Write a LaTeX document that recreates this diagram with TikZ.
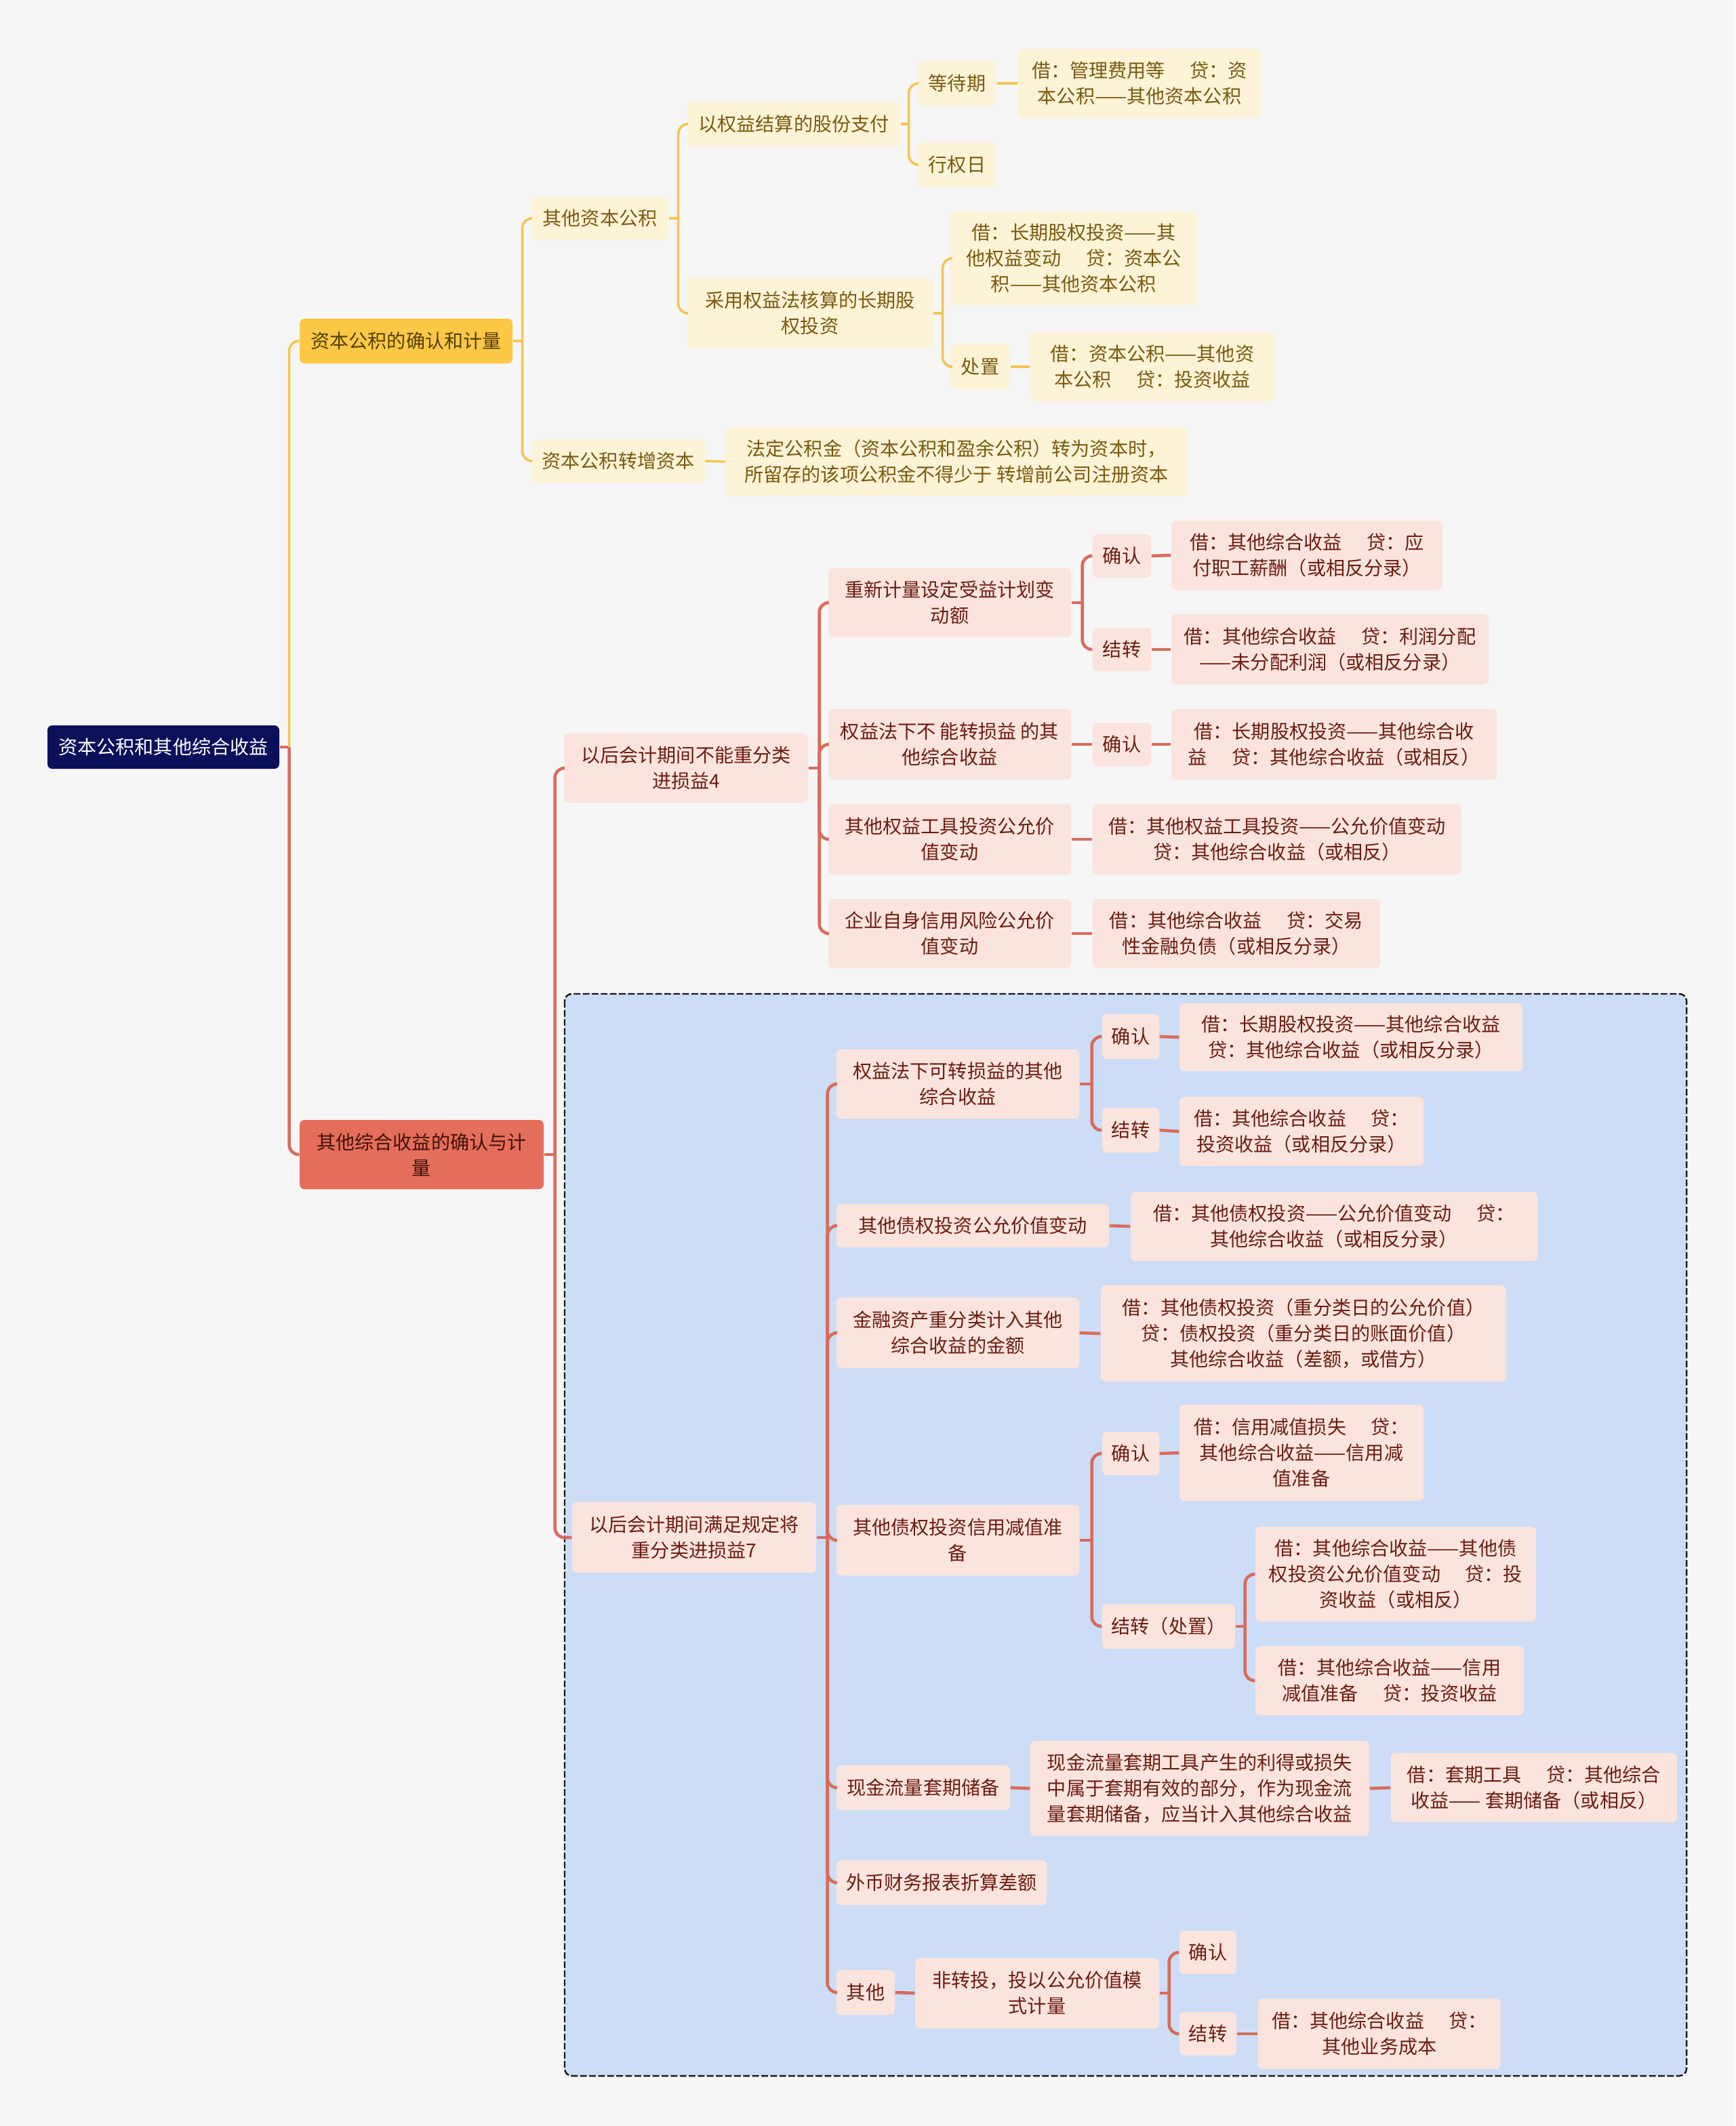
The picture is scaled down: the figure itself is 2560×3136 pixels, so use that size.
\documentclass[tikz,border=0pt]{standalone}
\usepackage{fontspec}
\setmainfont{Noto Sans CJK SC}

\definecolor{cbg}{HTML}{F6F6F6}
\definecolor{croot}{HTML}{0C0F5A}
\definecolor{cymain}{HTML}{FCC845}
\definecolor{cyfill}{HTML}{FDF3D7}
\definecolor{cytext}{HTML}{7A5A10}
\definecolor{cyline}{HTML}{F5C550}
\definecolor{crmain}{HTML}{E56E5A}
\definecolor{crfill}{HTML}{FBE4DE}
\definecolor{crtext}{HTML}{6B1D12}
\definecolor{crline}{HTML}{D76C5C}
\definecolor{cblue}{HTML}{CDDDF6}

\newcommand{\dgap}{\hspace{1.3em}}

\begin{document}
\begin{tikzpicture}[
    x=0.01cm, y=-0.01cm, % one unit = one pixel of the reference
    sz/.style 2 args={minimum width=#1*0.01cm, minimum height=#2*0.01cm}, % box size in pixels
    box/.style={rounded corners=2pt, inner sep=0pt, align=center,
      font=\fontsize{8pt}{10.8pt}\selectfont}, % base style for all boxes
    rootbox/.style={box, fill=croot, text=white}, % central topic
    ymainbox/.style={box, fill=cymain, text=cytext!70!black}, % first main branch
    rmainbox/.style={box, fill=crmain, text=crtext!60!black}, % second main branch
    ybox/.style={box, fill=cyfill, text=cytext}, % yellow sub topics
    rbox/.style={box, fill=crfill, text=crtext}, % red sub topics
    ylink/.style={draw=cyline, line width=1pt, rounded corners=4pt}, % yellow connectors
    rlink/.style={draw=crline, line width=1.3pt, rounded corners=4pt} % red connectors
]

    % Background and frame
    \fill[cbg] (0,0) rectangle (2560,3136);
    \useasboundingbox (0,0) rectangle (2560,3136);

    % Highlighted zone of the second group
    \draw[dash pattern=on 2.8pt off 1pt, draw=black!90, line width=0.7pt, fill=cblue, rounded corners=3pt]
      (833,1466) rectangle (2488,3062);

    % Central topic and main branches
    \node[rootbox, sz={342}{64}] (root) at (241,1102) {资本公积和其他综合收益};
    \node[ymainbox, sz={314}{66}] (gain) at (599,503) {资本公积的确认和计量};
    \node[rmainbox, sz={360}{102}] (oci) at (622,1703) {其他综合收益的确认与计\\量};

    % Capital reserve branch
    \node[ybox, sz={202}{64}] (other) at (885,322) {其他资本公积};
    \node[ybox, sz={256}{64}] (convert) at (912,680) {资本公积转增资本};
    \node[ybox, sz={314}{66}] (share) at (1171,183) {以权益结算的股份支付};
    \node[ybox, sz={362}{104}] (equity) at (1195,462) {采用权益法核算的长期股\\权投资};
    \node[ybox, sz={116}{66}] (wait) at (1412,123) {等待期};
    \node[ybox, sz={116}{66}] (exer) at (1412,243) {行权日};
    \node[ybox, sz={358}{102}] (waitent) at (1681,123) {借：管理费用等\dgap 贷：资\\本公积——其他资本公积};
    \node[ybox, sz={364}{138}] (eqent) at (1584,381) {借：长期股权投资——其\\他权益变动\dgap 贷：资本公\\积——其他资本公积};
    \node[ybox, sz={88}{66}] (dispose) at (1446,541) {处置};
    \node[ybox, sz={360}{102}] (dispent) at (1700,541) {借：资本公积——其他资\\本公积\dgap 贷：投资收益};
    \node[ybox, sz={682}{102}] (rule) at (1411,681) {法定公积金（资本公积和盈余公积）转为资本时，\\所留存的该项公积金不得少于 转增前公司注册资本};

    % Items that are never reclassified
    \node[rbox, sz={360}{102}] (never) at (1012,1133) {以后会计期间不能重分类\\进损益4};
    \node[rbox, sz={358}{102}] (plan) at (1401,889) {重新计量设定受益计划变\\动额};
    \node[rbox, sz={358}{104}] (eqno) at (1401,1098) {权益法下不 能转损益 的其\\他综合收益};
    \node[rbox, sz={358}{104}] (instr) at (1401,1238) {其他权益工具投资公允价\\值变动};
    \node[rbox, sz={358}{102}] (credit) at (1401,1377) {企业自身信用风险公允价\\值变动};
    \node[rbox, sz={86}{64}] (planrec) at (1655,820) {确认};
    \node[rbox, sz={86}{64}] (plantra) at (1655,958) {结转};
    \node[rbox, sz={400}{102}] (planrecent) at (1928,819) {借：其他综合收益\dgap 贷：应\\付职工薪酬（或相反分录）};
    \node[rbox, sz={468}{104}] (plantraent) at (1962,958) {借：其他综合收益\dgap 贷：利润分配\\——未分配利润（或相反分录）};
    \node[rbox, sz={86}{64}] (eqnorec) at (1655,1098) {确认};
    \node[rbox, sz={480}{104}] (eqnoent) at (1968,1098) {借：长期股权投资——其他综合收\\益\dgap 贷：其他综合收益（或相反）};
    \node[rbox, sz={544}{104}] (instrent) at (1884,1238) {借：其他权益工具投资——公允价值变动\\贷：其他综合收益（或相反）};
    \node[rbox, sz={424}{102}] (creditent) at (1824,1377) {借：其他综合收益\dgap 贷：交易\\性金融负债（或相反分录）};

    % Items that are reclassified later
    \node[rbox, sz={360}{104}] (later) at (1024,2268) {以后会计期间满足规定将\\重分类进损益7};
    \node[rbox, sz={358}{102}] (eqyes) at (1413,1599) {权益法下可转损益的其他\\综合收益};
    \node[rbox, sz={84}{66}] (eqyesrec) at (1668,1529) {确认};
    \node[rbox, sz={84}{66}] (eqyestra) at (1668,1667) {结转};
    \node[rbox, sz={506}{100}] (eqyesrecent) at (1993,1530) {借：长期股权投资——其他综合收益\\贷：其他综合收益（或相反分录）};
    \node[rbox, sz={360}{102}] (eqyestraent) at (1920,1669) {借：其他综合收益\dgap 贷：\\投资收益（或相反分录）};
    \node[rbox, sz={402}{64}] (debtfv) at (1435,1808) {其他债权投资公允价值变动};
    \node[rbox, sz={600}{102}] (debtfvent) at (1968,1809) {借：其他债权投资——公允价值变动\dgap 贷：\\其他综合收益（或相反分录）};
    \node[rbox, sz={358}{104}] (reclass) at (1413,1966) {金融资产重分类计入其他\\综合收益的金额};
    \node[rbox, sz={598}{142}] (reclassent) at (1923,1967) {借：其他债权投资（重分类日的公允价值）\\贷：债权投资（重分类日的账面价值）\\其他综合收益（差额，或借方）};
    \node[rbox, sz={358}{104}] (impair) at (1413,2272) {其他债权投资信用减值准\\备};
    \node[rbox, sz={84}{64}] (imprec) at (1668,2144) {确认};
    \node[rbox, sz={360}{142}] (imprecent) at (1920,2143) {借：信用减值损失\dgap 贷：\\其他综合收益——信用减\\值准备};
    \node[rbox, sz={196}{66}] (imptra) at (1724,2399) {结转（处置）};
    \node[rbox, sz={414}{140}] (imptraa) at (2059,2322) {借：其他综合收益——其他债\\权投资公允价值变动\dgap 贷：投\\资收益（或相反）};
    \node[rbox, sz={396}{102}] (imptrab) at (2050,2479) {借：其他综合收益——信用\\减值准备\dgap 贷：投资收益};
    \node[rbox, sz={256}{66}] (hedge) at (1362,2637) {现金流量套期储备};
    \node[rbox, sz={500}{140}] (hedgedesc) at (1770,2638) {现金流量套期工具产生的利得或损失\\中属于套期有效的部分，作为现金流\\量套期储备，应当计入其他综合收益};
    \node[rbox, sz={422}{102}] (hedgeent) at (2263,2637) {借：套期工具\dgap 贷：其他综合\\收益—— 套期储备（或相反）};
    \node[rbox, sz={310}{66}] (fx) at (1389,2777) {外币财务报表折算差额};
    \node[rbox, sz={86}{66}] (misc) at (1277,2939) {其他};
    \node[rbox, sz={360}{104}] (nonconv) at (1530,2940) {非转投，投以公允价值模\\式计量};
    \node[rbox, sz={84}{64}] (nonrec) at (1782,2880) {确认};
    \node[rbox, sz={84}{64}] (nontra) at (1782,3000) {结转};
    \node[rbox, sz={358}{104}] (nontraent) at (2035,3000) {借：其他综合收益\dgap 贷：\\其他业务成本};

    % Connectors from the central topic
    \draw[rlink] (root.east) -- ++(14,0);
    \draw[ylink] (root.east) ++(14,0) |- (gain.west);
    \draw[rlink] (root.east) ++(14,0) |- (oci.west);

    % Connectors of the capital reserve branch
    \draw[ylink] (gain.east) -- ++(14,0);
    \foreach \c in {other,convert}
      \draw[ylink] (gain.east) ++(14,0) |- (\c.west);
    \draw[ylink] (other.east) -- ++(14,0);
    \foreach \c in {share,equity}
      \draw[ylink] (other.east) ++(14,0) |- (\c.west);
    \draw[ylink] (share.east) -- ++(12,0);
    \foreach \c in {wait,exer}
      \draw[ylink] (share.east) ++(12,0) |- (\c.west);
    \draw[ylink] (equity.east) -- ++(14,0);
    \foreach \c in {eqent,dispose}
      \draw[ylink] (equity.east) ++(14,0) |- (\c.west);
    \draw[ylink] (wait.east) -- (waitent.west);
    \draw[ylink] (dispose.east) -- (dispent.west);
    \draw[ylink] (convert.east) -- (rule.west);

    % Connectors of the other comprehensive income branch
    \draw[rlink] (oci.east) -- ++(16,0);
    \foreach \c in {never,later}
      \draw[rlink] (oci.east) ++(16,0) |- (\c.west);
    \draw[rlink] (never.east) -- ++(16,0);
    \foreach \c in {plan,eqno,instr,credit}
      \draw[rlink] (never.east) ++(16,0) |- (\c.west);
    \draw[rlink] (plan.east) -- ++(16,0);
    \foreach \c in {planrec,plantra}
      \draw[rlink] (plan.east) ++(16,0) |- (\c.west);
    \draw[rlink] (planrec.east) -- (planrecent.west);
    \draw[rlink] (plantra.east) -- (plantraent.west);
    \draw[rlink] (eqno.east) -- (eqnorec.west);
    \draw[rlink] (eqnorec.east) -- (eqnoent.west);
    \draw[rlink] (instr.east) -- (instrent.west);
    \draw[rlink] (credit.east) -- (creditent.west);

    \draw[rlink] (later.east) -- ++(16,0);
    \foreach \c in {eqyes,debtfv,reclass,impair,hedge,fx,misc}
      \draw[rlink] (later.east) ++(16,0) |- (\c.west);
    \draw[rlink] (eqyes.east) -- ++(18,0);
    \foreach \c in {eqyesrec,eqyestra}
      \draw[rlink] (eqyes.east) ++(18,0) |- (\c.west);
    \draw[rlink] (eqyesrec.east) -- (eqyesrecent.west);
    \draw[rlink] (eqyestra.east) -- (eqyestraent.west);
    \draw[rlink] (debtfv.east) -- (debtfvent.west);
    \draw[rlink] (reclass.east) -- (reclassent.west);
    \draw[rlink] (impair.east) -- ++(18,0);
    \foreach \c in {imprec,imptra}
      \draw[rlink] (impair.east) ++(18,0) |- (\c.west);
    \draw[rlink] (imprec.east) -- (imprecent.west);
    \draw[rlink] (imptra.east) -- ++(14,0);
    \foreach \c in {imptraa,imptrab}
      \draw[rlink] (imptra.east) ++(14,0) |- (\c.west);
    \draw[rlink] (hedge.east) -- (hedgedesc.west);
    \draw[rlink] (hedgedesc.east) -- (hedgeent.west);
    \draw[rlink] (misc.east) -- (nonconv.west);
    \draw[rlink] (nonconv.east) -- ++(14,0);
    \foreach \c in {nonrec,nontra}
      \draw[rlink] (nonconv.east) ++(14,0) |- (\c.west);
    \draw[rlink] (nontra.east) -- (nontraent.west);

\end{tikzpicture}
\end{document}
